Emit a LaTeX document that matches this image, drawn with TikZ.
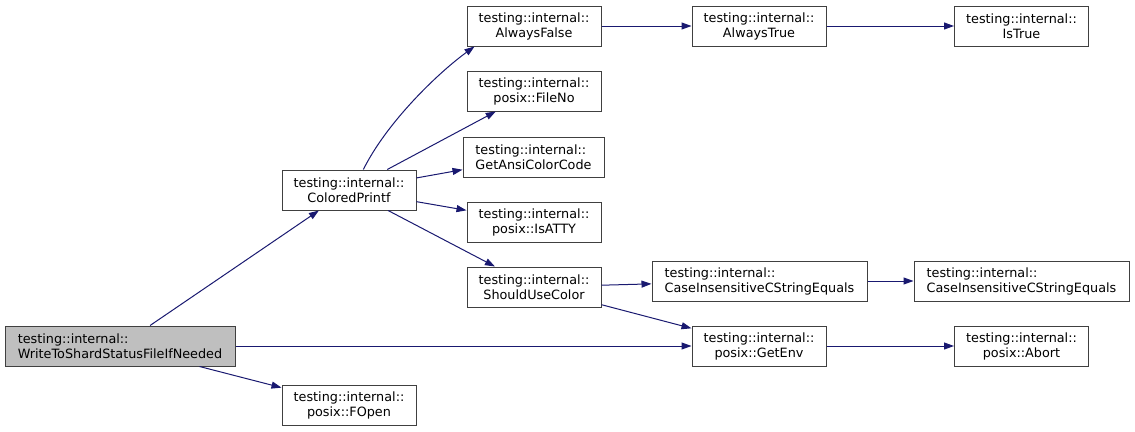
\documentclass[tikz,border=0pt]{standalone}
\usepackage{fontspec}
\setmainfont{DejaVu Sans}
\usetikzlibrary{arrows.meta}
\definecolor{callblue}{HTML}{191970}
\definecolor{boxline}{HTML}{404040}
\definecolor{rootfill}{HTML}{BFBFBF}
\begin{document}
\begin{tikzpicture}[x=1pt,y=-1pt,
  fn/.style={draw=boxline,line width=1pt,minimum height=40pt,minimum width=134pt,
    inner sep=2pt,align=center,font=\fontsize{12.8}{15}\selectfont},
  call/.style={draw=callblue,line width=1pt,-{Triangle[length=10pt,width=7pt]}}]
  \useasboundingbox (0,0) rectangle (1135,431);
  % callers on the left
  \node [fn,fill=rootfill,minimum width=230pt,align=left] (write) at (120,346) {testing::internal::\\WriteToShardStatusFileIfNeeded};
  \node [fn] (colored) at (349,190) {testing::internal::\\ColoredPrintf};
  \node [fn] (fopen) at (349,405) {testing::internal::\\posix::FOpen};
  % second column
  \node [fn] (alwaysfalse) at (534,26) {testing::internal::\\AlwaysFalse};
  \node [fn] (fileno) at (534,91) {testing::internal::\\posix::FileNo};
  \node [fn,minimum width=141pt,align=left] (ansicolor) at (533.5,157) {testing::internal::\\GetAnsiColorCode};
  \node [fn] (isatty) at (534,222) {testing::internal::\\posix::IsATTY};
  \node [fn] (usecolor) at (534,287) {testing::internal::\\ShouldUseColor};
  % third column
  \node [fn] (alwaystrue) at (759,26) {testing::internal::\\AlwaysTrue};
  \node [fn,minimum width=215pt,align=left] (caseeq) at (759.5,281) {testing::internal::\\CaseInsensitiveCStringEquals};
  \node [fn] (getenv) at (759,346) {testing::internal::\\posix::GetEnv};
  % last column
  \node [fn] (istrue) at (1021.5,26) {testing::internal::\\IsTrue};
  \node [fn,minimum width=215pt,align=left] (caseeqb) at (1021.5,281) {testing::internal::\\CaseInsensitiveCStringEquals};
  \node [fn] (abort) at (1021.5,346) {testing::internal::\\posix::Abort};

  \draw [call] (colored.55) .. controls (387,122) and (438,73) .. (alwaysfalse.199);
  \foreach \a/\b in {write/colored, write/fopen, write/getenv, colored/fileno,
    colored/ansicolor, colored/isatty, colored/usecolor, alwaysfalse/alwaystrue,
    alwaystrue/istrue, usecolor/caseeq, usecolor/getenv, caseeq/caseeqb, getenv/abort}
  {
    \draw [call] (\a) -- (\b);
  }
\end{tikzpicture}
\end{document}
